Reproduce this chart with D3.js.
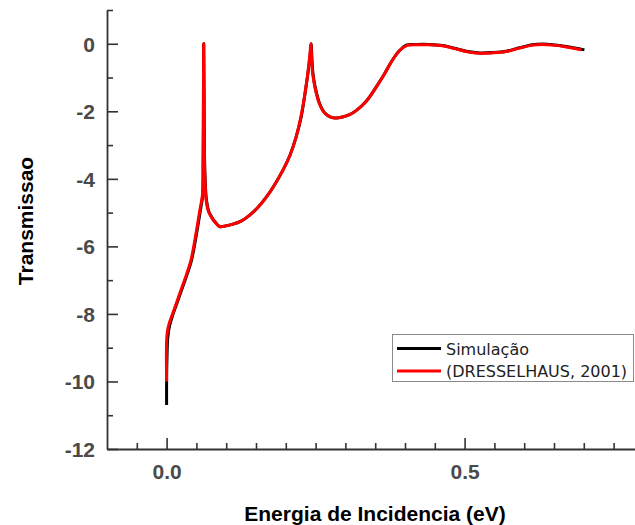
<!DOCTYPE html>
<html>
<head>
<meta charset="utf-8">
<script src="https://cdn.jsdelivr.net/npm/d3@7"></script>
<style>
  body { margin: 0; background: #fff; }
  svg { display: block; }
</style>
</head>
<body>
<div class="canvas"></div>
<script>
// data
const simEnergy = [0, 0, 0.0008, 0.002, 0.005, 0.010, 0.016, 0.022, 0.028, 0.035, 0.042, 0.0505, 0.057, 0.0605, 0.0614, 0.0619, 0.0623, 0.0629, 0.0642, 0.0668, 0.0705, 0.0752, 0.0815, 0.089, 0.100, 0.110, 0.125, 0.139, 0.153, 0.167, 0.181, 0.195, 0.207, 0.217, 0.226, 0.234, 0.2385, 0.241, 0.2425, 0.244, 0.2455, 0.2495, 0.2565, 0.2655, 0.2755, 0.2845, 0.295, 0.307, 0.318, 0.335, 0.351, 0.366, 0.379, 0.391, 0.402, 0.42, 0.44, 0.463, 0.485, 0.505, 0.525, 0.547, 0.570, 0.592, 0.614, 0.631, 0.648, 0.673, 0.701];
const simT      = [-10.7, -10.0, -9.2, -8.7, -8.35, -8.05, -7.75, -7.45, -7.15, -6.8, -6.4, -5.6, -4.9, -4.5, -3.5, -1.5, 0, -1.6, -3.8, -4.62, -4.95, -5.12, -5.28, -5.41, -5.39, -5.35, -5.25, -5.08, -4.85, -4.55, -4.18, -3.75, -3.3, -2.78, -2.15, -1.26, -0.7, -0.3, 0, -0.5, -0.87, -1.3, -1.76, -2.05, -2.17, -2.2, -2.17, -2.1, -1.98, -1.7, -1.3, -0.88, -0.48, -0.2, -0.04, -0.02, -0.02, -0.05, -0.14, -0.23, -0.27, -0.26, -0.22, -0.12, -0.03, -0.01, -0.03, -0.09, -0.18];

const refEnergy = [0, 0, 0.0015, 0.004, 0.009, 0.015, 0.021, 0.027, 0.034, 0.041, 0.0495, 0.056, 0.0600, 0.0612, 0.0618, 0.0622, 0.0628, 0.0640, 0.0663, 0.070, 0.0747, 0.081, 0.0886, 0.0998, 0.110, 0.125, 0.139, 0.153, 0.167, 0.181, 0.195, 0.207, 0.217, 0.226, 0.234, 0.238, 0.2405, 0.242, 0.2435, 0.245, 0.249, 0.256, 0.265, 0.275, 0.284, 0.295, 0.307, 0.318, 0.335, 0.351, 0.366, 0.379, 0.391, 0.402, 0.42, 0.44, 0.463, 0.485, 0.505, 0.525, 0.547, 0.570, 0.592, 0.614, 0.631, 0.648, 0.673, 0.696];
const refT      = [-10, -8.8, -8.5, -8.3, -8.05, -7.75, -7.45, -7.15, -6.8, -6.4, -5.6, -4.9, -4.5, -3.5, -1.5, 0, -1.6, -3.8, -4.62, -4.95, -5.12, -5.28, -5.41, -5.39, -5.35, -5.25, -5.08, -4.85, -4.55, -4.18, -3.75, -3.3, -2.78, -2.1, -1.26, -0.7, -0.3, 0, -0.5, -0.87, -1.3, -1.76, -2.05, -2.17, -2.2, -2.17, -2.1, -1.98, -1.7, -1.3, -0.88, -0.48, -0.2, -0.06, -0.03, -0.03, -0.06, -0.15, -0.24, -0.28, -0.27, -0.23, -0.13, -0.04, -0.02, -0.04, -0.1, -0.18];

const seriesNames = ['Simulação', '(DRESSELHAUS, 2001)'];
const seriesColors = ['#000000', '#ff0000'];

const xMajor = [0, 0.5];
const xMinor = [-0.05, 0.05, 0.1, 0.15, 0.2, 0.25, 0.3, 0.35, 0.4, 0.45, 0.55, 0.6, 0.65, 0.7, 0.75];
const yMajor = [0, -2, -4, -6, -8, -10, -12];
const yMinor = [1, -1, -3, -5, -7, -9, -11];

const W = 635, H = 525;

const svg = d3.select('.canvas')
  .append('svg')
    .attr('width', W)
    .attr('height', H);

// plot box: left axis at 107, bottom axis at 449
const x = d3.scaleLinear().domain([-0.1, 0.8]).range([107, 643.4]);
const y = d3.scaleLinear().domain([-12, 1]).range([449, 10]);

const axisColor = '#333';
const labelColor = '#4a4a4a';

// minor ticks first
svg.append('g')
  .attr('transform', `translate(0, ${y(-12)})`)
  .call(d3.axisBottom(x).tickValues(xMinor).tickSizeInner(-6).tickSizeOuter(0).tickFormat(''))
  .call(g => g.select('.domain').remove());

svg.append('g')
  .attr('transform', `translate(${x(-0.1)}, 0)`)
  .call(d3.axisLeft(y).tickValues(yMinor).tickSizeInner(-6).tickSizeOuter(0).tickFormat(''))
  .call(g => g.select('.domain').remove());

// major axes
const xAxisGroup = svg.append('g')
  .attr('transform', `translate(0, ${y(-12)})`)
  .call(d3.axisBottom(x).tickValues(xMajor).tickSizeInner(-11).tickSizeOuter(0).tickPadding(15).tickFormat(d3.format('.1f')));

const yAxisGroup = svg.append('g')
  .attr('transform', `translate(${x(-0.1)}, 0)`)
  .call(d3.axisLeft(y).tickValues(yMajor).tickSizeInner(-11).tickSizeOuter(0).tickPadding(12).tickFormat(d => d));

svg.selectAll('.tick line').attr('stroke', axisColor).attr('stroke-width', 1.6);
svg.selectAll('.domain').attr('stroke', axisColor).attr('stroke-width', 1.8);
svg.selectAll('.tick text')
  .attr('fill', labelColor)
  .style('font-family', '"Liberation Sans", Arial, sans-serif')
  .style('font-weight', 'bold')
  .style('font-size', '21px');
yAxisGroup.selectAll('.tick text').attr('dy', '0.35em');

// curves
const line = d3.line()
  .x(d => x(d[0]))
  .y(d => y(d[1]))
  .curve(d3.curveCatmullRom.alpha(0.5));

const simData = simEnergy.map((e, i) => [e, simT[i]]);
const refData = refEnergy.map((e, i) => [e, refT[i]]);

svg.append('path')
  .datum(simData)
  .attr('d', line)
  .attr('fill', 'none')
  .attr('stroke', seriesColors[0])
  .attr('stroke-width', 3)
  .attr('stroke-linejoin', 'round');

svg.append('path')
  .datum(refData)
  .attr('d', line)
  .attr('fill', 'none')
  .attr('stroke', seriesColors[1])
  .attr('stroke-width', 3)
  .attr('stroke-linejoin', 'round');

// axis titles
svg.append('text')
  .attr('x', 375)
  .attr('y', 521)
  .attr('text-anchor', 'middle')
  .style('font-family', '"Liberation Sans", Arial, sans-serif')
  .style('font-weight', 'bold')
  .style('font-size', '21px')
  .attr('fill', '#000')
  .text('Energia de Incidencia (eV)');

svg.append('text')
  .attr('transform', 'translate(33, 221) rotate(-90)')
  .attr('text-anchor', 'middle')
  .style('font-family', '"Liberation Sans", Arial, sans-serif')
  .style('font-weight', 'bold')
  .style('font-size', '21px')
  .attr('fill', '#000')
  .text('Transmissao');

// legend
const legend = svg.append('g');
legend.append('rect')
  .attr('x', 392.5)
  .attr('y', 334.5)
  .attr('width', 241)
  .attr('height', 47)
  .attr('fill', '#fff')
  .attr('stroke', '#8a8a8a')
  .attr('stroke-width', 1);

seriesNames.forEach((name, i) => {
  const ly = 348.5 + i * 22.5;
  legend.append('line')
    .attr('x1', 397).attr('x2', 441)
    .attr('y1', ly).attr('y2', ly)
    .attr('stroke', seriesColors[i])
    .attr('stroke-width', 3);
  legend.append('text')
    .attr('x', 446)
    .attr('y', ly + 6)
    .style('font-family', '"DejaVu Sans", Tahoma, sans-serif')
    .style('font-size', '16px')
    .attr('fill', '#222')
    .text(name);
});
</script>
</body>
</html>
